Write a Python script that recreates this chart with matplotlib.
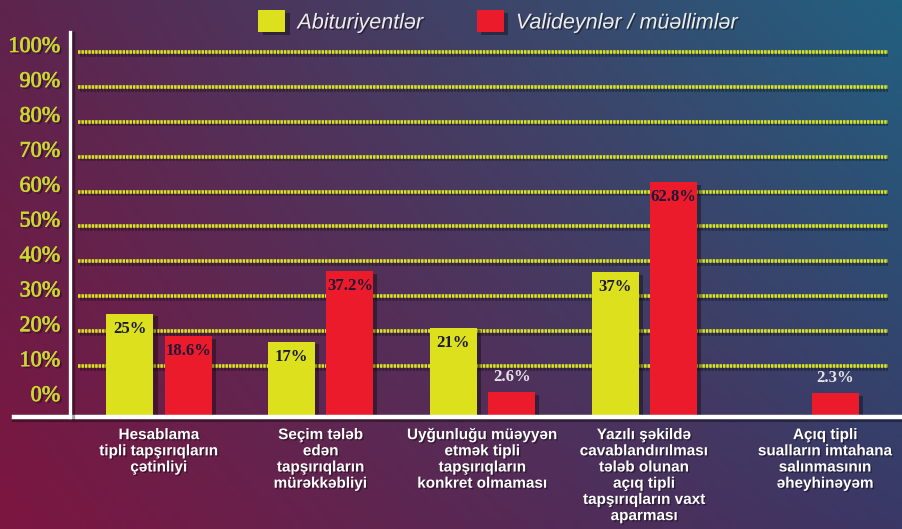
import numpy as np
import matplotlib
matplotlib.use("Agg")
import matplotlib.pyplot as plt
import matplotlib.patheffects as pe
from matplotlib.transforms import ScaledTranslation
from matplotlib.lines import Line2D

# ---------------- data ----------------
categories = [
    "Hesablama\ntipli tapşırıqların\nçətinliyi",
    "Seçim tələb\nedən\ntapşırıqların\nmürəkkəbliyi",
    "Uyğunluğu müəyyən\netmək tipli\ntapşırıqların\nkonkret olmaması",
    "Yazılı şəkildə\ncavablandırılması\ntələb olunan\naçıq tipli\ntapşırıqların vaxt\naparması",
    "Açıq tipli\nsualların imtahana\nsalınmasının\nəheyhinəyəm",
]
series_names = ["Abituriyentlər", "Valideynlər / müəllimlər"]
abituriyent = [25, 17, 21, 37, None]
valideyn = [18.6, 37.2, 2.6, 62.8, 2.3]
abituriyent_labels = ["25%", "17%", "21%", "37%", None]
valideyn_labels = ["18.6%", "37.2%", "2.6%", "62.8%", "2.3%"]
yticks = list(range(0, 101, 10))
ytick_labels = [f"{t}%" for t in yticks]

YELLOW = "#dde01c"
RED = "#ec1b2b"
GRID = "#d8e424"
TICKC = "#cbd832"

fig = plt.figure(figsize=(9.03, 5.29), dpi=100)

# background gradient
bg = fig.add_axes([0, 0, 1, 1], zorder=-10)
tl = np.array([0x5e, 0x24, 0x4e]) / 255
bl = np.array([0x7c, 0x16, 0x40]) / 255
tr = np.array([0x22, 0x60, 0x80]) / 255
br = np.array([0x3a, 0x38, 0x66]) / 255
H, W = 60, 100
yy = np.linspace(0, 1, H)[:, None, None]
xx = np.linspace(0, 1, W)[None, :, None]
img = (1 - yy) * ((1 - xx) * tl + xx * tr) + yy * ((1 - xx) * bl + xx * br)
bg.imshow(img, aspect="auto", extent=[0, 1, 0, 1], interpolation="bilinear")
bg.set_axis_off()

# main axes
figW, figH = 903, 529
ax_l, ax_r, ax_t, ax_b = 70, 888, 32, 417
ax = fig.add_axes([ax_l / figW, 1 - ax_b / figH, (ax_r - ax_l) / figW, (ax_b - ax_t) / figH])
ax.patch.set_alpha(0)
for s in ax.spines.values():
    s.set_visible(False)

spacing = 161.75
xmin = (ax_l - 159) / spacing
xmax = (ax_r - 159) / spacing
ymin = -4.6
ax.set_xlim(xmin, xmax)
ax.set_ylim(ymin, 105.7)

x = np.arange(len(categories))
off = 0.18
w = 0.29

shadow = [pe.SimplePatchShadow(offset=(3, -2), shadow_rgbFace="k", alpha=0.35), pe.Normal()]

# gridlines
for t in yticks[1:]:
    ax.hlines(t, -0.5, xmax, colors=GRID, linewidth=2.6, linestyles=(0, (0.7, 0.25)), zorder=1,
              path_effects=[pe.SimpleLineShadow(offset=(1, -2), shadow_color="k", alpha=0.35), pe.Normal()])

# bars
ya = [(xi - off, v) for xi, v in zip(x, abituriyent) if v is not None]
ax.bar([p[0] for p in ya], [p[1] - ymin for p in ya], bottom=ymin, width=w, color=YELLOW,
       zorder=3, label=series_names[0], path_effects=shadow)
ax.bar(x + off, [v - ymin for v in valideyn], bottom=ymin, width=w, color=RED,
       zorder=3, label=series_names[1], path_effects=shadow)

# value labels
def put_labels(xs, vals, labels):
    for xi, v, lab in zip(xs, vals, labels):
        if v is None:
            continue
        if v < 5:
            ax.annotate(lab, (xi, v), xytext=(0, 11), textcoords="offset points", ha="center", va="center",
                        fontsize=12, fontweight="bold", family="Liberation Serif", color="#e6e2e6", zorder=5)
        else:
            ax.annotate(lab, (xi, v), xytext=(0, -11), textcoords="offset points", ha="center", va="center",
                        fontsize=12, fontweight="bold", family="Liberation Serif", color="#1c1838", zorder=5)

put_labels(x - off, abituriyent, abituriyent_labels)
put_labels(x + off, valideyn, valideyn_labels)

# y ticks
ax.set_yticks(yticks)
ax.set_yticklabels(ytick_labels, family="Liberation Serif", fontsize=16, color=TICKC)
ax.tick_params(axis="y", length=0, pad=7)
for lab in ax.get_yticklabels():
    lab.set_transform(lab.get_transform() + ScaledTranslation(0, 5 / 72, fig.dpi_scale_trans))
    lab.set_path_effects([pe.SimplePatchShadow(offset=(1.5, -1.5), shadow_rgbFace="k", alpha=0.4),
                          pe.Stroke(linewidth=0.5, foreground=TICKC), pe.Normal()])

# x labels: centered over the bars present in each group
xpos = []
for xi, a in zip(x, abituriyent):
    xpos.append(xi if a is not None else xi + off - 0.06)
ax.set_xticks(xpos)
ax.set_xticklabels(categories, family="Liberation Sans", fontweight="bold", fontsize=11,
                   color="white", linespacing=1.2, va="top")
ax.tick_params(axis="x", length=0, pad=8)
for lab in ax.get_xticklabels():
    lab.set_path_effects([pe.withSimplePatchShadow(offset=(1, -1), shadow_rgbFace="k", alpha=0.4)])

# axis lines (white)
ysh = 1 - ax_b / figH
fig.add_artist(Line2D([14 / figW, 1], [ysh - 3 / figH, ysh - 3 / figH], color="k", alpha=0.35, lw=3, zorder=4))
fig.add_artist(Line2D([14 / figW, 1], [ysh, ysh], color="white", lw=3.2, zorder=5))
fig.add_artist(Line2D([ax_l / figW, ax_l / figW], [ysh, 1 - ax_t / figH], color="white", lw=2.4, zorder=5,
                      path_effects=[pe.SimpleLineShadow(offset=(2, -1), shadow_color="k", alpha=0.35), pe.Normal()]))

# legend
leg = fig.legend(loc="center", bbox_to_anchor=(498 / figW, 1 - 22 / figH), ncol=2, frameon=False,
                 prop={"family": "Liberation Sans", "style": "italic", "size": 15.5},
                 handlelength=1.25, handleheight=1.16, handletextpad=0.56, columnspacing=2.5,
                 labelcolor="#ececec")
for t in leg.get_texts():
    t.set_path_effects([pe.withSimplePatchShadow(offset=(1, -1), shadow_rgbFace="k", alpha=0.4)])

fig.savefig("out.png", dpi=100)
